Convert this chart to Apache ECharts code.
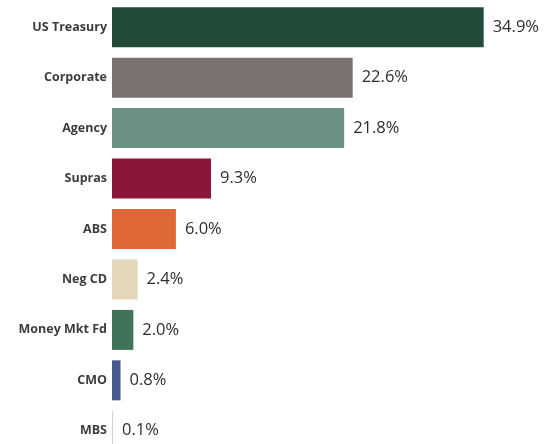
<!DOCTYPE html>
<html>
<head>
<meta charset="utf-8">
<script src="https://cdn.jsdelivr.net/npm/echarts@6/dist/echarts.min.js"></script>
<style>
  html, body { margin: 0; padding: 0; background: #ffffff; }
  #chart { width: 546px; height: 444px; }
</style>
</head>
<body>
<div id="chart"></div>
<script>
// Portfolio allocation by sector (%)
const sectors = ['US Treasury', 'Corporate', 'Agency', 'Supras', 'ABS', 'Neg CD', 'Money Mkt Fd', 'CMO', 'MBS'];
const weights = [34.9, 22.6, 21.8, 9.3, 6.0, 2.4, 2.0, 0.8, 0.1];
const sectorColors = ['#234b39', '#7b726f', '#6a9181', '#8b1638', '#df6838', '#e4d6b8', '#3f7459', '#465a90', '#dccfe3'];

const chart = echarts.init(document.getElementById('chart'), null, { renderer: 'canvas' });

chart.setOption({
  backgroundColor: '#ffffff',
  animation: false,
  // the last row runs past the bottom edge, so the grid is taller than the canvas
  grid: { left: 112, top: 2, width: 426, height: 454, containLabel: false, outerBoundsMode: 'none' },
  xAxis: {
    type: 'value',
    min: 0,
    max: 40,
    show: false
  },
  yAxis: {
    type: 'category',
    data: sectors,
    inverse: true,
    axisLine: { show: false },
    axisTick: { show: false },
    axisLabel: {
      color: '#3c3c3c',
      fontFamily: 'Open Sans',
      fontWeight: 'bold',
      fontSize: 12.5,
      margin: 5
    }
  },
  series: [{
    type: 'bar',
    barWidth: 40,
    data: weights.map((v, i) => ({ value: v, itemStyle: { color: sectorColors[i] } })),
    label: {
      show: true,
      position: 'right',
      distance: 9,
      color: '#2e2e2e',
      fontFamily: 'Open Sans',
      fontSize: 16.5,
      formatter: p => p.value.toFixed(1) + '%'
    }
  }]
});
</script>
</body>
</html>
